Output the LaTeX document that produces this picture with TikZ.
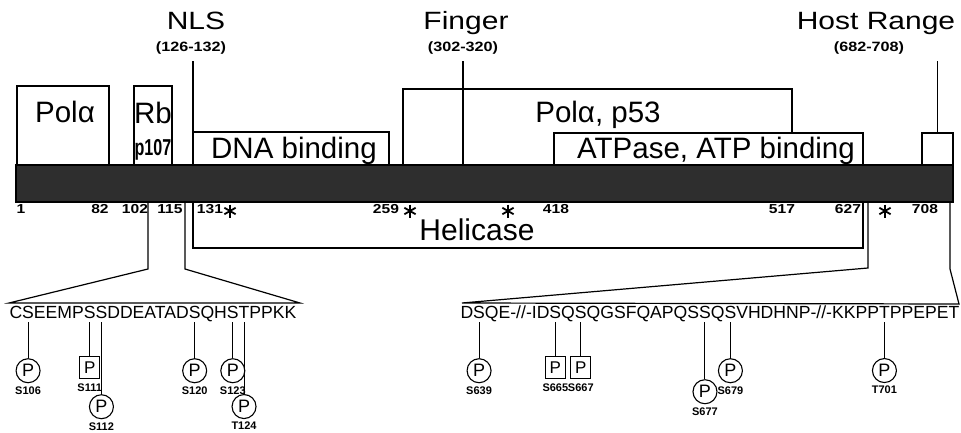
\documentclass[tikz,border=0pt]{standalone}
\usepackage{fontspec}
\setmainfont{Liberation Sans}
\newfontfamily\widefont[FakeStretch=1.2]{Liberation Sans}
\newfontfamily\narrowfont[FakeStretch=0.7]{Liberation Sans}
\usetikzlibrary{positioning}
\newcommand{\fsz}[1]{\fontsize{#1}{#1}\selectfont}

\begin{document}
\begin{tikzpicture}[x=1pt,y=-1pt,line width=1.2pt,
  dom/.style={draw,line width=1.2pt,fill=white,inner sep=0pt,outer sep=0pt,anchor=north west},
  domtxt/.style={inner sep=0pt,anchor=base,font=\fsz{29.5}},
  toplab/.style={inner sep=0pt,anchor=base,font=\widefont\fsz{25}},
  rnglab/.style={inner sep=0pt,anchor=base,font=\widefont\bfseries\fsz{13.5}},
  numlab/.style={inner sep=0pt,anchor=base,font=\widefont\bfseries\fsz{13}},
  aa/.style={inner sep=0pt,outer sep=0pt,anchor=base west,font=\fsz{17.6}},
  pc/.style={circle,draw,line width=1.1pt,minimum size=24pt,inner sep=0pt,font=\fsz{18}},
  psq/.style={rectangle,draw,line width=1.1pt,minimum width=20pt,minimum height=22pt,inner sep=0pt,font=\fsz{17}},
  sitelab/.style={inner sep=0pt,font=\bfseries\fsz{11}},
  stem/.style={line width=1pt}]
\useasboundingbox (0,0) rectangle (961,433);
% domain boxes
\node[dom,minimum width=92pt,minimum height=79pt] (pola) at (17,86) {};
\node[dom,minimum width=38pt,minimum height=79pt] (rb) at (134,86) {};
\node[dom,minimum width=196pt,minimum height=33pt] (dna) at (193,132) {};
\node[dom,minimum width=389pt,minimum height=76pt] (polp) at (403,89) {};
\node[dom,minimum width=309pt,minimum height=32pt] (atp) at (554,133) {};
\node[dom,minimum width=31pt,minimum height=32pt] (host) at (922,133) {};
% domain labels
\node[domtxt] (tpola) at (65,123) {Polα};
\node[domtxt] (trb) at (153,124) {Rb};
\node[inner sep=0pt,anchor=base,font=\narrowfont\bfseries\fsz{23}] (tp107) at (153,156) {p107};
\node[domtxt] (tdna) at (294,158) {DNA binding};
\node[domtxt] (tpolp) at (598,123) {Polα, p53};
\node[domtxt] (tatp) at (716,158) {ATPase, ATP binding};
% motif labels on top
\node[toplab] (nls) at (196,30) {NLS};
\node[rnglab] (nlsr) at (191,52) {(126-132)};
\node[toplab] (fing) at (466,30) {Finger};
\node[rnglab] (fingr) at (463,52) {(302-320)};
\node[toplab] (hostl) at (876,30) {Host Range};
\node[rnglab] (hostr) at (869,52) {(682-708)};
% the protein
\node[draw,fill=black!82,inner sep=0pt,outer sep=0pt,anchor=north west,
  minimum width=937pt,minimum height=37pt] (bar) at (16,165) {};
% motif lines
\draw ([yshift=-6pt]nlsr.south -| dna.west) -- (dna.south west);
\draw ([yshift=-6pt]fingr.south) -- (fingr.south |- bar.north);
\draw ([yshift=-6pt]hostr.south -| host.north) -- (host.north);
% residue numbers
\node[numlab,anchor=base west] (n1) at (16,213) {1};
\node[numlab] (n82) at (100,213) {82};
\node[numlab] (n102) at (135,213) {102};
\node[numlab] (n115) at (170,213) {115};
\node[numlab] (n131) at (210,213) {131};
\node[numlab] (n259) at (386,213) {259};
\node[numlab] (n418) at (556,213) {418};
\node[numlab] (n517) at (782,213) {517};
\node[numlab] (n627) at (848,213) {627};
\node[numlab] (n708) at (925,213) {708};
% asterisks
\foreach \x in {230,410,508,885}{
  \coordinate (st\x) at (\x,211);
  \foreach \a in {90,30,150}
    \draw[line width=1.8pt] ([shift={(\a:6.5pt)}]st\x) -- ([shift={(\a+180:6.5pt)}]st\x);
}
% helicase
\draw (bar.south -| dna.west) -- ++(0,46) -| (bar.south -| atp.east);
\node[inner sep=0pt,anchor=base,font=\fsz{30}] (hel) at (477,240) {Helicase};
% blow ups
\coordinate (c102) at (148,202);
\coordinate (c115) at (185,202);
\coordinate (c627) at (868,202);
\coordinate (c708) at (950,202);
\draw (c102) -- ++(0,67) -- (9,303) -- (300,303) -- (185,269) -- (c115);
\draw (c627) -- ++(0,66) -- (462,303) -- (959,304) -- (950,269) -- (c708);
% sequence 105-128
\node[aa] (a0) at (9.5,318) {C};
\node[aa] (s106) at (a0.base east) {S};
\node[aa] (a1) at (s106.base east) {EEMP};
\node[aa] (s111) at (a1.base east) {S};
\node[aa] (s112) at (s111.base east) {S};
\node[aa] (a2) at (s112.base east) {DDEATAD};
\node[aa] (s120) at (a2.base east) {S};
\node[aa] (a3) at (s120.base east) {QH};
\node[aa] (s123) at (a3.base east) {S};
\node[aa] (t124) at (s123.base east) {T};
\node[aa] (a4) at (t124.base east) {PPKK};
% sequence 638-708
\node[aa] (b0) at (460.5,318) {D};
\node[aa] (s639) at (b0.base east) {S};
\node[aa] (b1) at (s639.base east) {QE-//-ID};
\node[aa] (s665) at (b1.base east) {S};
\node[aa] (b2) at (s665.base east) {Q};
\node[aa] (s667) at (b2.base east) {S};
\node[aa] (b3) at (s667.base east) {QGSFQAPQS};
\node[aa] (s677) at (b3.base east) {S};
\node[aa] (b4) at (s677.base east) {Q};
\node[aa] (s679) at (b4.base east) {S};
\node[aa] (b5) at (s679.base east) {VHDHNP-//-KKPP};
\node[aa] (t701) at (b5.base east) {T};
\node[aa] (b6) at (t701.base east) {PPEPET};
% phosphorylation sites
\foreach \s/\lab/\d in {s106/S106/40pt,s112/S112/76pt,s120/S120/40pt,s123/S123/40pt,
  t124/T124/76pt,s639/S639/40pt,s677/S677/61pt,s679/S679/40pt,t701/T701/40pt}{
  \node[pc,below=\d of \s] (p\s) {P};
  \node[sitelab,below=2.5pt of p\s] (l\s) {\lab};
  \draw[stem] ([yshift=-4pt]\s.south) -- (p\s);
}
\foreach \s/\lab in {s111/S111,s665/S665,s667/S667}{
  \node[psq,below=38pt of \s] (p\s) {P};
  \node[sitelab,below=4pt of p\s] (l\s) {\lab};
  \draw[stem] ([yshift=-4pt]\s.south) -- (p\s);
}
\end{tikzpicture}
\end{document}
